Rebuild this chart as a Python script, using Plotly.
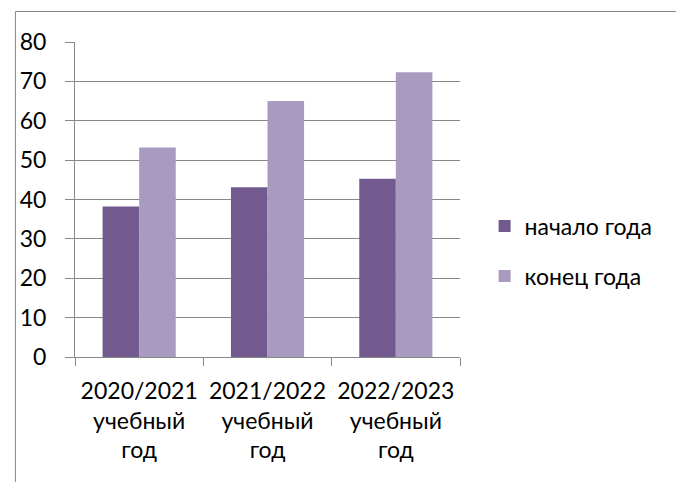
import plotly.graph_objects as go

# данные
годы = ["2020/2021<br>учебный<br>год", "2021/2022<br>учебный<br>год", "2022/2023<br>учебный<br>год"]
начало_года = [38.2, 43.1, 45.3]
конец_года = [53.2, 65.0, 72.3]

цвет_начало = "#725A8F"
цвет_конец = "#A99BBF"
серый = "#878787"
шрифт = "Lato"

# страница имеет отступ body 8px, поэтому всё сдвинуто на 8px
OFF = 8
W, H = 684, 482
L, R, T, B = 69 - OFF, 224 + OFF, 42 - OFF, 125 + OFF

fig = go.Figure()
fig.add_trace(go.Bar(x=годы, y=начало_года, name="начало года",
                     marker=dict(color=цвет_начало, line=dict(width=0)), legendgroup="a"))
fig.add_trace(go.Bar(x=годы, y=конец_года, name="конец года",
                     marker=dict(color=цвет_конец, line=dict(width=0)), legendgroup="b"))

pw, ph = W - L - R, H - T - B
top_y = (H - (11.5 - OFF) - B) / ph
left_x = (0.5 - L) / pw
# рамка (видны только верх и лево)
fig.add_shape(type="line", xref="paper", yref="paper",
              x0=left_x, x1=(W - L) / pw, y0=top_y, y1=top_y,
              line=dict(color=серый, width=1))
fig.add_shape(type="line", xref="paper", yref="paper",
              x0=left_x, x1=left_x, y0=top_y, y1=-B / ph,
              line=dict(color=серый, width=1))

fig.update_layout(
    width=W, height=H,
    margin=dict(l=L, r=R, t=T, b=B),
    paper_bgcolor="white", plot_bgcolor="white",
    barmode="group", bargap=0.43, bargroupgap=0,
    font=dict(family=шрифт, size=23, color="#000000"),
    legend=dict(x=(485 - OFF - L) / pw, y=0.336, yanchor="middle", xanchor="left",
                tracegroupgap=17, font=dict(size=23), bgcolor="rgba(0,0,0,0)"),
    xaxis=dict(showline=True, linecolor=серый, linewidth=1, ticks="outside",
               tickson="boundaries", ticklen=8, tickcolor=серый, showgrid=False,
               ticklabelstandoff=13, tickfont=dict(size=23)),
    yaxis=dict(range=[0, 80], dtick=10, showline=True, linecolor=серый, linewidth=1,
               ticks="outside", ticklen=9, tickcolor=серый, showgrid=True,
               gridcolor=серый, gridwidth=1, zeroline=False, ticklabelstandoff=14,
               tickfont=dict(size=23)),
)

fig.write_html("out.html")
